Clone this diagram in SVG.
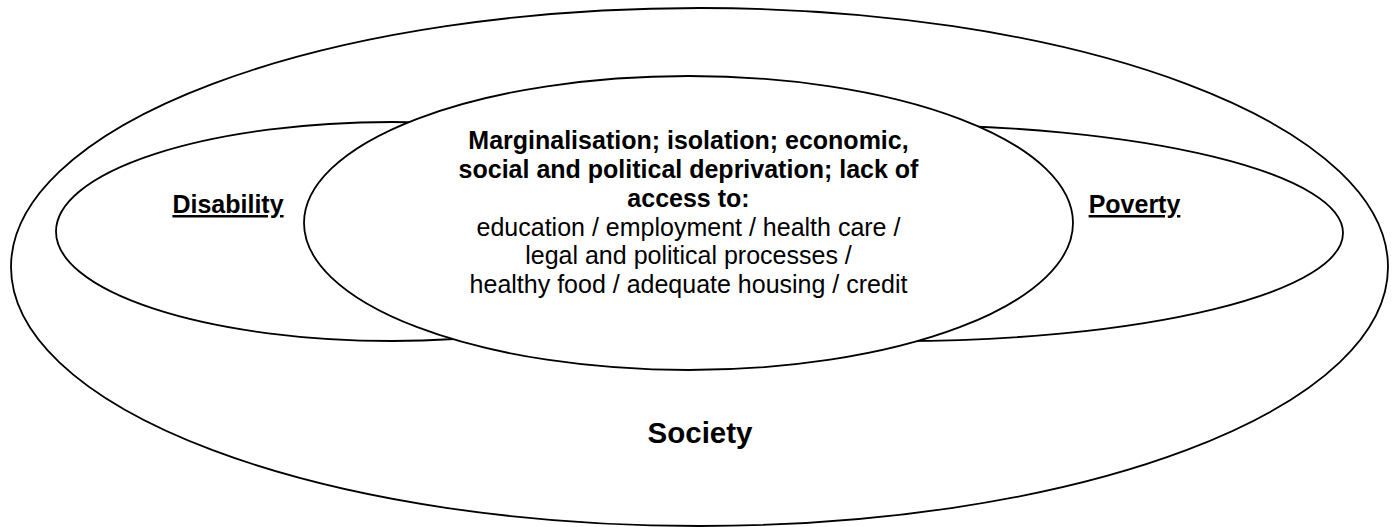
<svg xmlns="http://www.w3.org/2000/svg" width="1395" height="527" viewBox="0 0 1395 527">
<style>
.ring{fill:#fff;stroke:#000;stroke-width:1.8}
.t{font-family:"Liberation Sans",Arial,sans-serif;fill:#000;text-anchor:middle}
.b{font-weight:bold}
.lbl{font-size:25px;font-weight:bold;text-decoration:underline}
.c{font-size:25px}
</style>
<rect width="1395" height="527" fill="#fff"/>
<g id="society">
<ellipse class="ring" cx="699.5" cy="267" rx="688.5" ry="259"/>
<text class="t b" x="700" y="443" font-size="29.5">Society</text>
</g>
<g id="disability">
<ellipse class="ring" cx="392" cy="231.5" rx="336" ry="109.5"/>
<text class="t lbl" x="228" y="213">Disability</text>
</g>
<g id="poverty">
<ellipse class="ring" cx="900" cy="233" rx="443" ry="108"/>
<text class="t lbl" x="1134.5" y="213">Poverty</text>
</g>
<g id="marginalisation">
<ellipse class="ring" cx="688.5" cy="223" rx="384.5" ry="147"/>
<text class="t c b" x="688.5" y="149">Marginalisation; isolation; economic,</text>
<text class="t c b" x="688.5" y="178">social and political deprivation; lack of</text>
<text class="t c b" x="688.5" y="207">access to:</text>
<text class="t c" x="688.5" y="235.5">education / employment / health care /</text>
<text class="t c" x="688.5" y="264">legal and political processes /</text>
<text class="t c" x="688.5" y="292.5">healthy food / adequate housing / credit</text>
</g>
</svg>
